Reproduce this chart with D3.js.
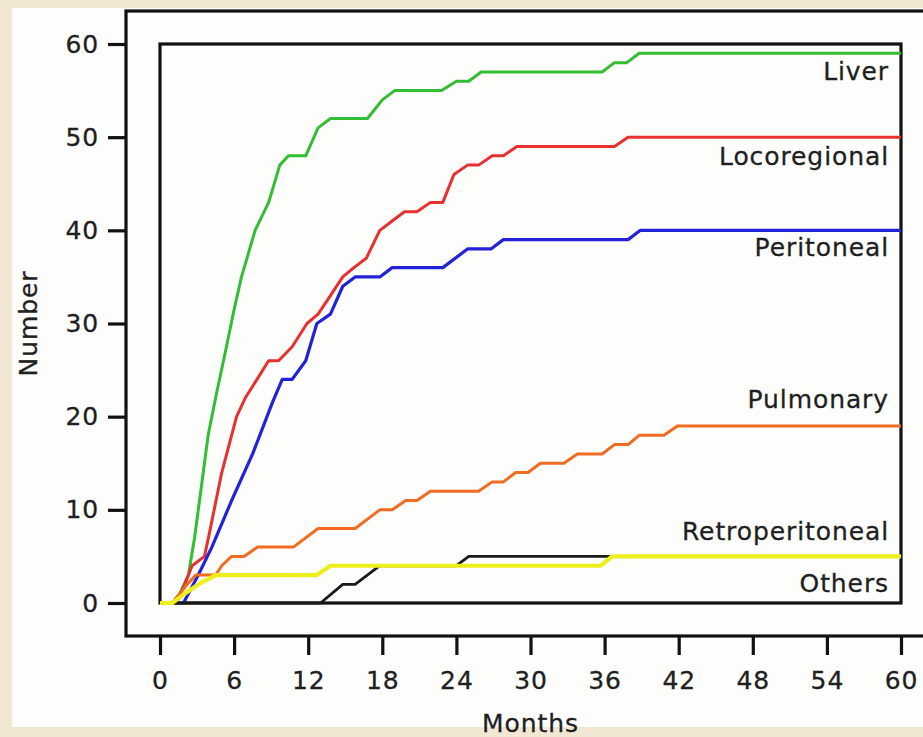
<!DOCTYPE html>
<html>
<head>
<meta charset="utf-8">
<script src="https://cdn.jsdelivr.net/npm/d3@7"></script>
<style>
  body { margin: 0; background: #f1e7d3; }
  svg { display: block; }
  text { font-family: "DejaVu Sans", Verdana, sans-serif; fill: #1f1f1f; letter-spacing: 0.9px;
         stroke: #1f1f1f; stroke-width: 0.3px; }
</style>
</head>
<body>
<svg id="chart" width="923" height="737"></svg>
<script>
// cumulative number of recurrences by site, [month, count]
const liver = [[0,0],[1,0],[1.6,1],[2.3,3],[2.8,7],[3.4,13],[3.9,18],[4.5,22],[5.3,27],[6,31.5],[6.6,35],
  [7.7,40],[8.8,43],[9.7,47],[10.4,48],[11.8,48],[12.8,51],[13.8,52],[16.8,52],[18,54],[19,55],[22.8,55],
  [24,56],[25,56],[26,57],[35.8,57],[36.8,58],[37.8,58],[38.8,59],[60,59]];
const locoregional = [[0,0],[1.3,0],[2,2],[2.6,4],[3.6,5],[4,7.5],[5,14],[6.2,20],[6.9,22],[8.8,26],[9.6,26],
  [10.7,27.5],[11.9,30],[12.8,31],[13.8,33],[14.8,35],[15.7,36],[16.7,37],[17.8,40],[18.8,41],[19.8,42],
  [20.8,42],[21.9,43],[22.9,43],[23.8,46],[24.9,47],[25.8,47],[26.9,48],[27.8,48],[28.9,49],[36.8,49],
  [37.9,50],[60,50]];
const peritoneal = [[0,0],[1.9,0],[3.1,3],[4.2,6],[5.8,11],[7.5,16],[9.1,21.5],[9.9,24],[10.7,24],[11.8,26],
  [12.7,30],[13.8,31],[14.8,34],[15.8,35],[17.8,35],[18.8,36],[22.9,36],[24.9,38],[26.8,38],[27.8,39],
  [37.9,39],[38.9,40],[60,40]];
const pulmonary = [[0,0],[1,0],[2.2,2],[2.9,3],[4.5,3],[5,4],[5.8,5],[6.8,5],[7.9,6],[10.8,6],[12.8,8],
  [15.8,8],[17.8,10],[18.8,10],[19.9,11],[20.8,11],[21.9,12],[25.8,12],[26.9,13],[27.8,13],[28.8,14],
  [29.8,14],[30.8,15],[32.7,15],[33.8,16],[35.8,16],[36.8,17],[37.9,17],[38.8,18],[40.8,18],[41.9,19],[60,19]];
const retroperitoneal = [[0,0],[1,0],[2,1],[3.1,2],[4.5,3],[12.7,3],[13.8,4],[35.7,4],[36.6,5],[60,5]];
const others = [[0,0],[13,0],[14.8,2],[15.8,2],[17.8,4],[24,4],[25,5],[36.7,5],[60,5]];

const seriesNames = ["Liver", "Locoregional", "Peritoneal", "Pulmonary", "Others", "Retroperitoneal"];
const seriesData = [liver, locoregional, peritoneal, pulmonary, others, retroperitoneal];

const xTicks = [0, 6, 12, 18, 24, 30, 36, 42, 48, 54, 60];
const yTicks = [0, 10, 20, 30, 40, 50, 60];

// styling
const colors = ["#33bd33", "#e6312f", "#2222d8", "#ef6c22", "#1a1a1a", "#eeee1c"];
const widths = [3, 3, 3.2, 3, 2.8, 4.2];
const labelDy = [27, 28, 26, -18, 36, -16];   // label baseline offset from the final value

const svg = d3.select("#chart");

svg.append("rect").attr("x", 12).attr("y", 8).attr("width", 911).attr("height", 719).attr("fill", "#fdfdfc");

const x = d3.scaleLinear().domain([0, 60]).range([160, 901]);
const y = d3.scaleLinear().domain([0, 60]).range([603, 44]);

// outer axis frame (runs off the right edge)
svg.append("rect")
  .attr("x", 126).attr("y", 11).attr("width", 900).attr("height", 625)
  .attr("fill", "none").attr("stroke", "#111").attr("stroke-width", 3.2);

const yAxis = svg.append("g")
  .attr("transform", "translate(126,0)")
  .call(d3.axisLeft(y).tickValues(yTicks).tickSize(18).tickPadding(9));

const xAxis = svg.append("g")
  .attr("transform", "translate(0,636)")
  .call(d3.axisBottom(x).tickValues(xTicks).tickSize(19).tickPadding(16));

[yAxis, xAxis].forEach(function (g) {
  g.select(".domain").remove();
  g.selectAll(".tick line").attr("stroke", "#111").attr("stroke-width", 3.2);
  g.selectAll(".tick text").attr("font-size", 25).attr("fill", "#1f1f1f")
    .style("font-family", '"DejaVu Sans", Verdana, sans-serif');
});

// inner data box
svg.append("rect")
  .attr("x", x(0)).attr("y", y(60))
  .attr("width", x(60) - x(0)).attr("height", y(0) - y(60))
  .attr("fill", "none").attr("stroke", "#111").attr("stroke-width", 3.2);

const line = d3.line().x(d => x(d[0])).y(d => y(d[1]));

svg.append("g").selectAll("path")
  .data(seriesData)
  .enter().append("path")
  .attr("d", line)
  .attr("fill", "none")
  .attr("stroke", (d, i) => colors[i])
  .attr("stroke-width", (d, i) => widths[i])
  .attr("stroke-linejoin", "round");

svg.append("g").selectAll("text")
  .data(seriesNames)
  .enter().append("text")
  .attr("x", 889)
  .attr("y", (d, i) => y(seriesData[i][seriesData[i].length - 1][1]) + labelDy[i])
  .attr("text-anchor", "end")
  .attr("font-size", 25)
  .text(d => d);

svg.append("text")
  .attr("x", (x(0) + x(60)) / 2).attr("y", 732)
  .attr("text-anchor", "middle").attr("font-size", 25)
  .text("Months");

svg.append("text")
  .attr("transform", "translate(37," + (y(0) + y(60)) / 2 + ") rotate(-90)")
  .attr("text-anchor", "middle").attr("font-size", 25)
  .text("Number");
</script>
</body>
</html>
